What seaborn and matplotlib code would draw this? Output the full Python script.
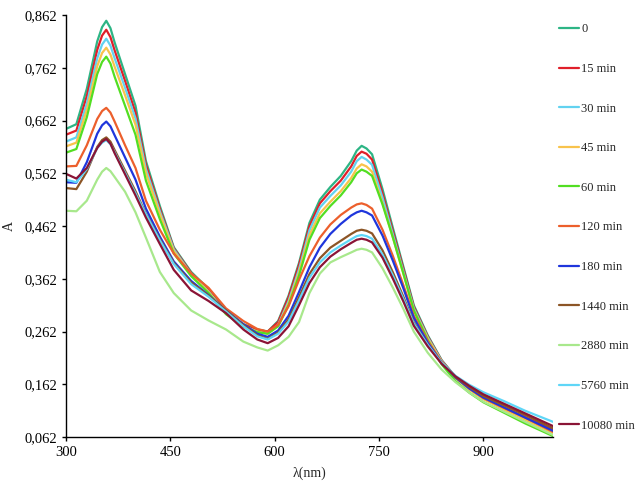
import pandas as pd
import numpy as np
import matplotlib
matplotlib.use("Agg")
import matplotlib.pyplot as plt
from matplotlib.ticker import FixedLocator, FuncFormatter
import seaborn as sns

# Set style
sns.set_style("white")
plt.rcParams['font.family'] = ['Liberation Serif', 'DejaVu Serif']

# wavelengths (nm)
wavelength = [300, 315, 330, 345, 352, 358, 364, 370, 385, 400, 415, 435, 455, 480, 505,
              530, 555, 575, 590, 605, 620, 635, 650, 665, 680, 695, 710, 718, 725, 732,
              740, 755, 770, 785, 800, 820, 840, 860, 880, 900, 930, 960, 1000]

labels = ["0", "15 min", "30 min", "45 min", "60 min", "120 min", "180 min",
          "1440 min", "2880 min", "5760 min", "10080 min"]

colors = ["#2db585", "#e01f2a", "#62d2f0", "#f8c34c", "#52de22", "#ec5f2c",
          "#1f36dc", "#8c5526", "#a8e88c", "#5fd6f7", "#8a1436"]

a_0 = [0.646, 0.655, 0.722, 0.812, 0.839, 0.851, 0.837, 0.810, 0.750, 0.690, 0.585, 0.500, 0.422, 0.375, 0.343,
       0.300, 0.276, 0.266, 0.262, 0.282, 0.330, 0.392, 0.468, 0.512, 0.536, 0.557, 0.585, 0.605, 0.614, 0.609,
       0.598, 0.532, 0.458, 0.385, 0.312, 0.255, 0.208, 0.176, 0.153, 0.135, 0.116, 0.098, 0.074]
a_15 = [0.635, 0.643, 0.708, 0.796, 0.823, 0.834, 0.820, 0.795, 0.737, 0.677, 0.578, 0.495, 0.420, 0.373, 0.340,
        0.299, 0.275, 0.265, 0.262, 0.280, 0.327, 0.388, 0.462, 0.505, 0.528, 0.548, 0.575, 0.595, 0.603, 0.599,
        0.588, 0.524, 0.452, 0.381, 0.309, 0.253, 0.207, 0.176, 0.154, 0.136, 0.118, 0.100, 0.076]
a_30 = [0.622, 0.630, 0.694, 0.780, 0.806, 0.817, 0.804, 0.780, 0.724, 0.666, 0.570, 0.490, 0.418, 0.371, 0.338,
        0.297, 0.273, 0.262, 0.258, 0.275, 0.320, 0.380, 0.454, 0.497, 0.519, 0.539, 0.565, 0.585, 0.593, 0.588,
        0.578, 0.516, 0.446, 0.376, 0.306, 0.251, 0.206, 0.175, 0.153, 0.135, 0.116, 0.097, 0.072]
a_45 = [0.613, 0.620, 0.682, 0.765, 0.790, 0.800, 0.787, 0.764, 0.710, 0.654, 0.562, 0.485, 0.415, 0.370, 0.337,
        0.296, 0.272, 0.262, 0.258, 0.273, 0.316, 0.374, 0.445, 0.486, 0.508, 0.528, 0.553, 0.571, 0.579, 0.575,
        0.565, 0.506, 0.440, 0.372, 0.303, 0.249, 0.205, 0.174, 0.152, 0.134, 0.114, 0.095, 0.070]
a_60 = [0.601, 0.608, 0.668, 0.750, 0.773, 0.783, 0.770, 0.745, 0.690, 0.635, 0.548, 0.475, 0.410, 0.367, 0.335,
        0.295, 0.271, 0.261, 0.258, 0.272, 0.312, 0.368, 0.436, 0.477, 0.500, 0.520, 0.545, 0.562, 0.569, 0.565,
        0.557, 0.503, 0.440, 0.372, 0.302, 0.246, 0.200, 0.168, 0.146, 0.128, 0.108, 0.088, 0.064]
a_120 = [0.575, 0.576, 0.615, 0.665, 0.680, 0.686, 0.677, 0.660, 0.615, 0.572, 0.510, 0.455, 0.410, 0.372, 0.345,
         0.306, 0.282, 0.267, 0.262, 0.275, 0.310, 0.360, 0.405, 0.440, 0.465, 0.483, 0.497, 0.503, 0.505, 0.502,
         0.495, 0.455, 0.405, 0.350, 0.292, 0.244, 0.204, 0.175, 0.154, 0.136, 0.117, 0.099, 0.072]
a_180 = [0.545, 0.544, 0.583, 0.637, 0.653, 0.660, 0.651, 0.634, 0.592, 0.550, 0.495, 0.442, 0.395, 0.358, 0.331,
         0.302, 0.276, 0.258, 0.252, 0.264, 0.292, 0.337, 0.384, 0.421, 0.447, 0.466, 0.482, 0.488, 0.491, 0.488,
         0.482, 0.444, 0.396, 0.344, 0.288, 0.241, 0.203, 0.175, 0.154, 0.137, 0.118, 0.099, 0.074]
a_1440 = [0.534, 0.532, 0.565, 0.612, 0.625, 0.630, 0.622, 0.606, 0.567, 0.528, 0.485, 0.437, 0.392, 0.355, 0.330,
          0.302, 0.274, 0.255, 0.248, 0.260, 0.285, 0.327, 0.371, 0.401, 0.421, 0.434, 0.447, 0.453, 0.455, 0.453,
          0.448, 0.416, 0.374, 0.328, 0.279, 0.237, 0.202, 0.176, 0.157, 0.140, 0.122, 0.104, 0.079]
a_2880 = [0.491, 0.490, 0.510, 0.550, 0.565, 0.572, 0.566, 0.555, 0.527, 0.488, 0.440, 0.375, 0.335, 0.302, 0.283,
          0.266, 0.243, 0.232, 0.226, 0.236, 0.252, 0.280, 0.335, 0.372, 0.393, 0.403, 0.412, 0.417, 0.419, 0.417,
          0.412, 0.382, 0.345, 0.305, 0.262, 0.222, 0.190, 0.166, 0.146, 0.129, 0.110, 0.091, 0.066]
a_5760 = [0.550, 0.545, 0.570, 0.610, 0.620, 0.625, 0.617, 0.602, 0.563, 0.524, 0.484, 0.435, 0.390, 0.352, 0.328,
          0.300, 0.272, 0.253, 0.247, 0.258, 0.281, 0.321, 0.364, 0.393, 0.412, 0.425, 0.437, 0.443, 0.445, 0.443,
          0.438, 0.408, 0.368, 0.324, 0.277, 0.237, 0.203, 0.178, 0.161, 0.147, 0.130, 0.112, 0.091]
a_10080 = [0.561, 0.552, 0.572, 0.610, 0.622, 0.627, 0.618, 0.600, 0.560, 0.520, 0.478, 0.428, 0.379, 0.340, 0.320,
           0.297, 0.266, 0.247, 0.240, 0.250, 0.272, 0.312, 0.354, 0.384, 0.404, 0.418, 0.430, 0.436, 0.438, 0.436,
           0.431, 0.402, 0.362, 0.319, 0.273, 0.234, 0.201, 0.177, 0.159, 0.143, 0.125, 0.107, 0.083]

series = [a_0, a_15, a_30, a_45, a_60, a_120, a_180, a_1440, a_2880, a_5760, a_10080]

# long-form table for seaborn
frames = []
for lab, vals in zip(labels, series):
    frames.append(pd.DataFrame({"wl": wavelength, "A": vals, "time": lab}))
df = pd.concat(frames, ignore_index=True)

fig = plt.figure(figsize=(6.4, 4.83), dpi=100)
ax = fig.add_axes([0.103, 0.095, 0.761, 0.874])

sns.lineplot(data=df, x="wl", y="A", hue="time", hue_order=labels,
             palette=colors, linewidth=1.6, sort=False, estimator=None, ax=ax)

ax.set_xlim(300, 1000)
ax.set_ylim(0.062, 0.862)
ax.xaxis.set_major_locator(FixedLocator([300, 450, 600, 750, 900]))
ax.yaxis.set_major_locator(FixedLocator([0.062, 0.162, 0.262, 0.362, 0.462,
                                         0.562, 0.662, 0.762, 0.862]))
ax.yaxis.set_major_formatter(FuncFormatter(lambda v, p: f"{v:.3f}".replace(".", ",")))

for s in ["top", "right"]:
    ax.spines[s].set_visible(False)
for s in ["left", "bottom"]:
    ax.spines[s].set_color("black")
    ax.spines[s].set_linewidth(1.0)
ax.tick_params(axis="both", direction="out", length=3, width=1, labelsize=10.5,
               colors="black", bottom=True, left=True)

ax.set_xlabel("λ(nm)", fontsize=10, labelpad=5)
ax.set_ylabel("A", fontsize=10, labelpad=6)

ax.legend_.remove()
handles, lbls = ax.get_legend_handles_labels()
fig.legend(handles, lbls, loc="upper left", bbox_to_anchor=(0.866, 0.962),
           frameon=False, fontsize=9, handlelength=1.6, handletextpad=0.15,
           labelspacing=2.21, borderaxespad=0)

fig.savefig("out.png", dpi=100, facecolor="white")
